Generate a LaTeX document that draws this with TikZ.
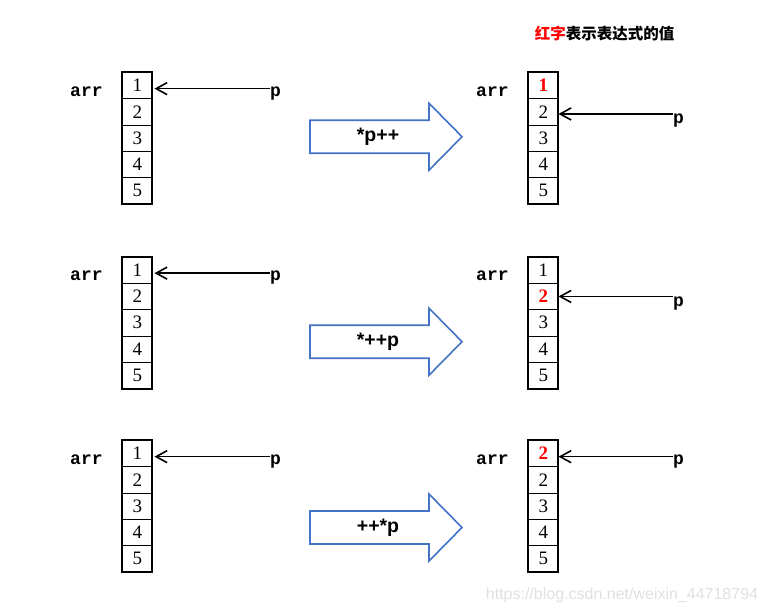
\documentclass[tikz,border=0pt]{standalone}
\usepackage{fontspec}
\setmainfont{Liberation Serif}
\newfontfamily\cjk{Noto Sans CJK SC}
\newfontfamily\monob{Liberation Mono}
\newfontfamily\sansb{Liberation Sans}
\usetikzlibrary{arrows.meta}

\definecolor{arrowblue}{HTML}{4472C4}
\newcommand{\hl}[1]{\textcolor{red}{\bfseries #1}}

\tikzset{
  cell/.style={draw, line width=0.8pt, minimum width=29.5pt, minimum height=26.3pt,
    inner sep=0pt, font=\fontsize{19}{19}\selectfont},
  frame/.style={line width=2pt},
  lbl/.style={inner sep=0pt, anchor=base west, font=\monob\bfseries\fontsize{18}{18}\selectfont},
  ptr/.style={line width=1.6pt, -{Straight Barb[length=11pt, width=12pt]}},
  bigarrow/.style={draw=arrowblue, line width=1.6pt, fill=white},
  op/.style={font=\sansb\bfseries\fontsize{19.5}{19.5}\selectfont},
  title/.style={font=\cjk\bfseries\fontsize{15.5}{15.5}\selectfont}
}

\begin{document}
\begin{tikzpicture}[x=1pt, y=-1pt]
  \useasboundingbox (0,0) rectangle (768,614);

  % 标题
  \node[title] (T) at (604.5,34) {\textcolor{red}{红字}表示表达式的值};

  % 左边三个数组
  \foreach \r/\top in {1/72.5, 2/257, 3/440.5} {
    \foreach \i in {1,...,5}
      \node[cell] (L\r-\i) at (137.3, {\top+13.15+26.3*(\i-1)}) {\i};
    \draw[frame] (L\r-1.north west) rectangle (L\r-5.south east);
    \node[lbl] (arrL\r) at (70, {\top+23.5}) {arr};
    \node[lbl] (pL\r) at (270, {\top+23.5}) {p};
    \draw[ptr] ([yshift=-3pt]pL\r.west |- L\r-1.east) -- ([xshift=2pt, yshift=-3pt]L\r-1.east);
  }

  % 右边三个数组
  \foreach \i/\v in {1/\hl{1}, 2/2, 3/3, 4/4, 5/5}
    \node[cell] (R1-\i) at (543.3, {72.5+13.15+26.3*(\i-1)}) {\v};
  \foreach \i/\v in {1/1, 2/\hl{2}, 3/3, 4/4, 5/5}
    \node[cell] (R2-\i) at (543.3, {257+13.15+26.3*(\i-1)}) {\v};
  \foreach \i/\v in {1/\hl{2}, 2/2, 3/3, 4/4, 5/5}
    \node[cell] (R3-\i) at (543.3, {440.5+13.15+26.3*(\i-1)}) {\v};
  \foreach \r in {1,2,3}
    \draw[frame] (R\r-1.north west) rectangle (R\r-5.south east);

  \node[lbl] (arrR1) at (476, 96) {arr};
  \node[lbl] (arrR2) at (476, 280.5) {arr};
  \node[lbl] (arrR3) at (476, 464) {arr};
  \node[lbl] (pR1) at (673, 123) {p};
  \node[lbl] (pR2) at (673, 306.5) {p};
  \node[lbl] (pR3) at (673, 464) {p};
  \draw[ptr] ([yshift=-2pt]pR1.west |- R1-2.east) -- ([yshift=-2pt]R1-2.east);
  \draw[ptr] (pR2.west |- R2-2.east) -- (R2-2.east);
  \draw[ptr] ([yshift=-3pt]pR3.west |- R3-1.east) -- ([yshift=-3pt]R3-1.east);

  % 中间的箭头
  \foreach \r/\y/\op in {1/136.7/{*p++}, 2/341.7/{*++p}, 3/527.5/{++*p}} {
    \coordinate (B\r) at (310, \y);
    \draw[bigarrow] (B\r) ++(0,-16.5) -- ++(119,0) -- ++(0,-17) -- ++(33,33.5)
      -- ++(-33,33.5) -- ++(0,-17) -- ++(-119,0) -- cycle;
    \node[op] (op\r) at ([xshift=68pt]B\r) {\op};
  }

  % 水印
  \node[font=\sansb\fontsize{16}{16}\selectfont, text=black!12] (wm) at (622, 595)
    {https://blog.csdn.net/weixin\_44718794};
\end{tikzpicture}
\end{document}
